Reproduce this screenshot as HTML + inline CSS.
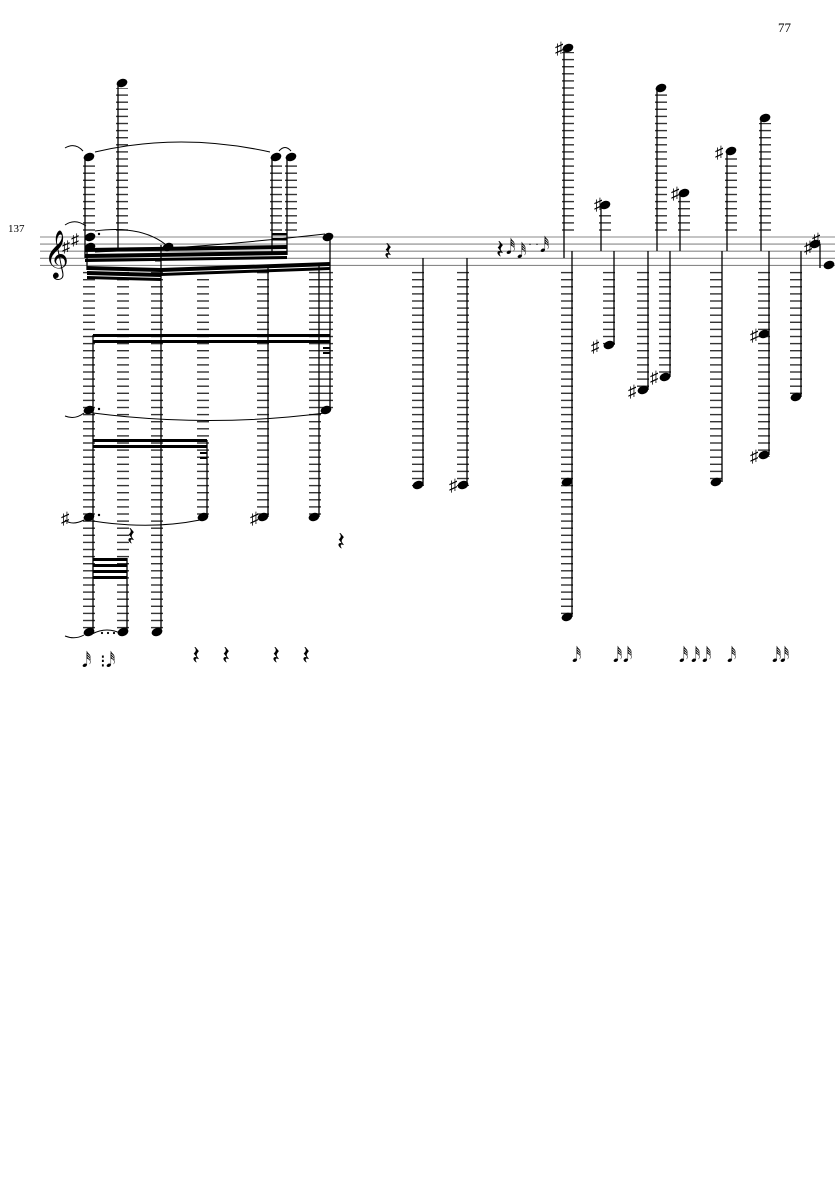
<!DOCTYPE html>
<html><head><meta charset="utf-8"><style>
html,body{margin:0;padding:0;background:#fff;}
svg{display:block;}
text{font-family:"Liberation Serif","DejaVu Sans",serif;}
</style></head><body>
<svg width="835" height="1181" viewBox="0 0 835 1181" xmlns="http://www.w3.org/2000/svg">
<defs>
<pattern id="L" patternUnits="userSpaceOnUse" width="20" height="7.1" x="0" y="236.4">
<rect x="0" y="0" width="20" height="1.4" fill="#333"/>
</pattern>
</defs>
<text x="778" y="32" font-size="13">77</text>
<text x="8" y="232" font-size="11">137</text>
<g stroke="#888" stroke-width="1.1">
<line x1="40" y1="237" x2="835" y2="237"/><line x1="40" y1="244.1" x2="835" y2="244.1"/>
<line x1="40" y1="251.2" x2="835" y2="251.2"/><line x1="40" y1="258.3" x2="835" y2="258.3"/>
<line x1="40" y1="265.4" x2="835" y2="265.4"/>
</g>
<text x="44" y="268" font-size="42">𝄞</text>
<text x="62" y="252" font-size="16">♯</text><text x="71" y="245" font-size="16">♯</text>
<g fill="url(#L)">
<rect x="83" y="162" width="12" height="70"/>
<rect x="116" y="88" width="12" height="144"/>
<rect x="270" y="162" width="12" height="70"/>
<rect x="285" y="162" width="12" height="70"/>
<rect x="562" y="52" width="12" height="180"/>
<rect x="599" y="210" width="12" height="22"/>
<rect x="655" y="93" width="12" height="139"/>
<rect x="678" y="198" width="12" height="34"/>
<rect x="725" y="156" width="12" height="76"/>
<rect x="759" y="123" width="12" height="109"/>
<rect x="83" y="271" width="12" height="362"/>
<rect x="117" y="271" width="12" height="362"/>
<rect x="151" y="271" width="12" height="362"/>
<rect x="197" y="271" width="12" height="247"/>
<rect x="257" y="271" width="12" height="247"/>
<rect x="309" y="271" width="12" height="247"/>
<rect x="321" y="271" width="12" height="140"/>
<rect x="412" y="271" width="12" height="215"/>
<rect x="457" y="271" width="12" height="215"/>
<rect x="561" y="271" width="12" height="347"/>
<rect x="603" y="271" width="12" height="75"/>
<rect x="637" y="271" width="12" height="120"/>
<rect x="659" y="271" width="12" height="107"/>
<rect x="710" y="271" width="12" height="212"/>
<rect x="758" y="271" width="12" height="186"/>
<rect x="790" y="271" width="12" height="128"/>
</g>
<g stroke="#000" stroke-width="1.3">
<line x1="85" y1="157" x2="85" y2="258"/>
<line x1="118" y1="83" x2="118" y2="250"/>
<line x1="272" y1="157" x2="272" y2="255"/>
<line x1="287" y1="157" x2="287" y2="255"/>
<line x1="564" y1="48" x2="564" y2="258"/>
<line x1="601" y1="205" x2="601" y2="251"/>
<line x1="657" y1="88" x2="657" y2="251"/>
<line x1="680" y1="193" x2="680" y2="251"/>
<line x1="727" y1="151" x2="727" y2="251"/>
<line x1="761" y1="118" x2="761" y2="251"/>
<line x1="87" y1="245" x2="87" y2="270"/>
<line x1="93" y1="335" x2="93" y2="632"/>
<line x1="127" y1="558" x2="127" y2="632"/>
<line x1="161" y1="245" x2="161" y2="632"/>
<line x1="207" y1="440" x2="207" y2="517"/>
<line x1="268" y1="265" x2="268" y2="517"/>
<line x1="319" y1="265" x2="319" y2="517"/>
<line x1="330" y1="237" x2="330" y2="410"/>
<line x1="423" y1="258" x2="423" y2="485"/>
<line x1="467" y1="258" x2="467" y2="485"/>
<line x1="572" y1="251" x2="572" y2="617"/>
<line x1="614" y1="251" x2="614" y2="345"/>
<line x1="648" y1="251" x2="648" y2="390"/>
<line x1="670" y1="251" x2="670" y2="377"/>
<line x1="722" y1="251" x2="722" y2="482"/>
<line x1="769" y1="251" x2="769" y2="455"/>
<line x1="801" y1="251" x2="801" y2="397"/>
<line x1="820" y1="244" x2="820" y2="268"/>
</g>
<g fill="#000">
<polygon points="85,248 287,245 287,249 85,252"/>
<polygon points="85,254 287,251 287,255 85,258"/>
<polygon points="85,259 287,256 287,259 85,262"/>
<rect x="272" y="233" width="15" height="2.5"/><rect x="272" y="238" width="15" height="2.5"/>
<polygon points="87,266 161,268 161,272 87,270"/>
<polygon points="87,271 161,273 161,277 87,275"/>
<polygon points="87,276 161,278 161,281 87,279"/>
<polygon points="161,268 330,262 330,266 161,272"/>
<polygon points="161,273 330,267 330,270 161,276"/>
<rect x="155" y="259" width="6" height="2.5"/>
<rect x="93" y="334" width="237" height="3"/><rect x="93" y="340" width="237" height="3"/>
<rect x="323" y="347" width="7" height="2"/><rect x="323" y="352" width="7" height="2"/>
<rect x="93" y="439" width="114" height="3"/><rect x="93" y="445" width="114" height="3"/>
<rect x="200" y="452" width="7" height="2"/><rect x="200" y="457" width="7" height="2"/>
<rect x="93" y="558" width="34" height="3"/><rect x="93" y="564" width="34" height="3"/>
<rect x="93" y="570" width="34" height="3"/><rect x="93" y="576" width="34" height="3"/>
</g>
<g fill="#000">
<ellipse cx="89" cy="157" rx="5.5" ry="4" transform="rotate(-20 89 157)"/>
<ellipse cx="122" cy="83" rx="5.5" ry="4" transform="rotate(-20 122 83)"/>
<ellipse cx="276" cy="157" rx="5.5" ry="4" transform="rotate(-20 276 157)"/>
<ellipse cx="291" cy="157" rx="5.5" ry="4" transform="rotate(-20 291 157)"/>
<ellipse cx="568" cy="48" rx="5.5" ry="4" transform="rotate(-20 568 48)"/>
<ellipse cx="605" cy="205" rx="5.5" ry="4" transform="rotate(-20 605 205)"/>
<ellipse cx="661" cy="88" rx="5.5" ry="4" transform="rotate(-20 661 88)"/>
<ellipse cx="684" cy="193" rx="5.5" ry="4" transform="rotate(-20 684 193)"/>
<ellipse cx="731" cy="151" rx="5.5" ry="4" transform="rotate(-20 731 151)"/>
<ellipse cx="765" cy="118" rx="5.5" ry="4" transform="rotate(-20 765 118)"/>
<ellipse cx="90" cy="237" rx="5.5" ry="4" transform="rotate(-20 90 237)"/>
<ellipse cx="90" cy="247" rx="5.5" ry="4" transform="rotate(-20 90 247)"/>
<ellipse cx="168" cy="247" rx="5.5" ry="4" transform="rotate(-20 168 247)"/>
<ellipse cx="328" cy="237" rx="5.5" ry="4" transform="rotate(-20 328 237)"/>
<ellipse cx="89" cy="410" rx="5.5" ry="4" transform="rotate(-20 89 410)"/>
<ellipse cx="326" cy="410" rx="5.5" ry="4" transform="rotate(-20 326 410)"/>
<ellipse cx="89" cy="517" rx="5.5" ry="4" transform="rotate(-20 89 517)"/>
<ellipse cx="203" cy="517" rx="5.5" ry="4" transform="rotate(-20 203 517)"/>
<ellipse cx="263" cy="517" rx="5.5" ry="4" transform="rotate(-20 263 517)"/>
<ellipse cx="314" cy="517" rx="5.5" ry="4" transform="rotate(-20 314 517)"/>
<ellipse cx="89" cy="632" rx="5.5" ry="4" transform="rotate(-20 89 632)"/>
<ellipse cx="123" cy="632" rx="5.5" ry="4" transform="rotate(-20 123 632)"/>
<ellipse cx="157" cy="632" rx="5.5" ry="4" transform="rotate(-20 157 632)"/>
<ellipse cx="418" cy="485" rx="5.5" ry="4" transform="rotate(-20 418 485)"/>
<ellipse cx="463" cy="485" rx="5.5" ry="4" transform="rotate(-20 463 485)"/>
<ellipse cx="567" cy="482" rx="5.5" ry="4" transform="rotate(-20 567 482)"/>
<ellipse cx="567" cy="617" rx="5.5" ry="4" transform="rotate(-20 567 617)"/>
<ellipse cx="609" cy="345" rx="5.5" ry="4" transform="rotate(-20 609 345)"/>
<ellipse cx="643" cy="390" rx="5.5" ry="4" transform="rotate(-20 643 390)"/>
<ellipse cx="665" cy="377" rx="5.5" ry="4" transform="rotate(-20 665 377)"/>
<ellipse cx="716" cy="482" rx="5.5" ry="4" transform="rotate(-20 716 482)"/>
<ellipse cx="764" cy="334" rx="5.5" ry="4" transform="rotate(-20 764 334)"/>
<ellipse cx="764" cy="455" rx="5.5" ry="4" transform="rotate(-20 764 455)"/>
<ellipse cx="796" cy="397" rx="5.5" ry="4" transform="rotate(-20 796 397)"/>
<ellipse cx="815" cy="244" rx="5.5" ry="4" transform="rotate(-20 815 244)"/>
<ellipse cx="829" cy="265" rx="5.5" ry="4" transform="rotate(-20 829 265)"/>
<circle cx="99" cy="234" r="1.2"/><circle cx="99" cy="409" r="1.2"/><circle cx="99" cy="515" r="1.2"/>
<circle cx="102" cy="633" r="1.1"/><circle cx="108" cy="633" r="1.1"/><circle cx="114" cy="633" r="1.1"/>
</g>
<g font-size="17">
<text x="555" y="54">♯</text><text x="594" y="210">♯</text><text x="671" y="199">♯</text>
<text x="715" y="158">♯</text><text x="591" y="352">♯</text><text x="628" y="397">♯</text>
<text x="650" y="383">♯</text><text x="750" y="341">♯</text><text x="750" y="462">♯</text>
<text x="61" y="524">♯</text><text x="250" y="524">♯</text><text x="449" y="491">♯</text>
<text x="804" y="253">♯</text><text x="812" y="245">♯</text>
</g>
<g fill="none" stroke="#000" stroke-width="1">
<path d="M65,148 Q75,142 83,151"/>
<path d="M95,152 Q180,132 270,152"/>
<path d="M279,151 Q285,144 291,151"/>
<path d="M65,225 Q75,218 86,226"/>
<path d="M95,231 Q140,225 165,244"/>
<path d="M95,252 Q200,248 325,234"/>
<path d="M65,416 Q75,420 84,413"/>
<path d="M93,413 Q210,428 325,413"/>
<path d="M65,520 Q72,526 84,520"/>
<path d="M93,521 Q150,530 200,520"/>
<path d="M65,636 Q75,640 84,635"/>
<path d="M92,634 Q107,626 122,634"/>
</g>
<g font-size="26" fill="#000" font-family="DejaVu Sans">
<text x="384" y="260">𝄽</text><text x="127" y="545">𝄽</text><text x="337" y="550">𝄽</text>
<text x="192" y="664">𝄽</text><text x="222" y="664">𝄽</text><text x="272" y="664">𝄽</text><text x="302" y="664">𝄽</text>
<text x="496" y="258">𝄽</text>
</g>
<g font-size="18" fill="#000" font-family="DejaVu Sans">
<text x="82" y="667">𝅘𝅥𝅰</text><text x="100" y="667">⁝</text><text x="106" y="667">𝅘𝅥𝅰</text>
<text x="506" y="254">𝅘𝅥𝅰</text><text x="517" y="258">𝅘𝅥𝅰</text><text x="528" y="248" font-size="12">· ·</text><text x="540" y="252">𝅘𝅥𝅰</text>
<text x="572" y="662">𝅘𝅥𝅰</text><text x="613" y="662">𝅘𝅥𝅰</text><text x="623" y="662">𝅘𝅥𝅰</text>
<text x="679" y="662">𝅘𝅥𝅰</text><text x="691" y="662">𝅘𝅥𝅰</text><text x="702" y="662">𝅘𝅥𝅰</text>
<text x="727" y="662">𝅘𝅥𝅰</text><text x="772" y="662">𝅘𝅥𝅰</text><text x="780" y="662">𝅘𝅥𝅰</text>
</g>
</svg>
</body></html>
